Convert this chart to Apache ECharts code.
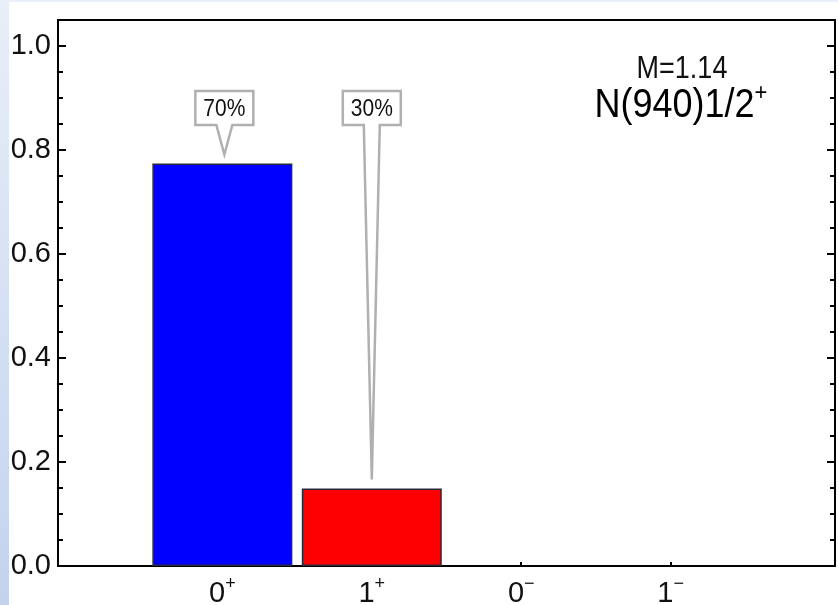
<!DOCTYPE html>
<html>
<head>
<meta charset="utf-8">
<script src="https://cdn.jsdelivr.net/npm/echarts@6/dist/echarts.min.js"></script>
<style>
  html, body { margin: 0; padding: 0; width: 838px; height: 605px; overflow: hidden; }
  body { background: linear-gradient(to bottom, #e9eef8, #c3d3ee); position: relative; }
  #chart { position: absolute; left: 9px; top: 2px; width: 829px; height: 603px; background: #fff; }
</style>
</head>
<body>
<div id="chart"></div>
<script>
// spin and parity of each channel on the x axis
const spins     = ['0', '1', '0', '1']
const parities  = ['+', '+', '\u2212', '\u2212']
const positions = [0, 1, 2, 3]

// bar heights and the percentage callouts above them
const probabilities = [0.774, 0.149]
const shares        = ['70%', '30%']
const barColors     = ['#0000ff', '#ff0000']

const yTicks = [0, 0.2, 0.4, 0.6, 0.8, 1.0]

const massLabel   = 'M=1.14'
const stateName   = 'N(940)1/2'
const stateParity = '+'

const FONT = '"Liberation Sans", Arial, Helvetica, sans-serif'

const chart = echarts.init(document.getElementById('chart'))

const yAxisBase = {
  type: 'value',
  min: 0,
  max: 1.05,
  interval: 0.2,
  splitLine: { show: false },
  axisLine: { show: true, onZero: false, lineStyle: { color: '#000', width: 2 } },
  axisTick: { show: true, inside: true, length: 8, lineStyle: { color: '#000', width: 2 } },
  minorTick: { show: true, splitNumber: 4, length: 5, lineStyle: { color: '#000', width: 2 } },
}

chart.setOption({
  animation: false,
  grid: {
    left: 49, top: 18, right: 3, bottom: 39,
    outerBoundsMode: 'none', containLabel: false,
    show: true, borderColor: '#000', borderWidth: 2,
  },
  xAxis: {
    type: 'value',
    min: -1.1,
    max: 4.1,
    splitLine: { show: false },
    axisLine: { show: true, onZero: false, lineStyle: { color: '#000', width: 2 } },
    axisTick: { show: true, inside: true, length: 4, customValues: positions, lineStyle: { color: '#000', width: 2 } },
    axisLabel: {
      customValues: positions,
      margin: 9,
      formatter: v => '{n|' + spins[v] + '}{p|' + parities[v] + '}',
      rich: {
        n: { fontFamily: FONT, fontSize: 29, color: '#111' },
        p: { fontFamily: FONT, fontSize: 18, color: '#111', verticalAlign: 'top', padding: [0, 0, 20, 0] },
      },
    },
  },
  yAxis: [
    {
      ...yAxisBase,
      position: 'left',
      axisLabel: {
        showMaxLabel: false,
        fontFamily: FONT, fontSize: 29, color: '#111', margin: 7,
        formatter: v => yTicks.includes(+v.toFixed(2)) ? v.toFixed(1) : '',
      },
    },
    { ...yAxisBase, position: 'right', axisLabel: { show: false } },
  ],
  series: [
    {
      type: 'bar',
      barWidth: 140,
      data: probabilities.map((p, i) => ({
        value: [positions[i], p],
        itemStyle: { color: barColors[i], borderColor: '#2a2a3a', borderWidth: 1.5 },
      })),
    },
    {
      type: 'custom',
      clip: false,
      z: 5,
      data: probabilities.map((p, i) => [positions[i], p]),
      renderItem(params, api) {
        const tip = api.coord([api.value(0), api.value(1)])
        const shift = params.dataIndex === 0 ? 2 : 0
        const cx = tip[0] + shift
        const ty = tip[1] - 9
        const w = 58, h = 34, half = 8
        const top = params.coordSys.y + 71
        const bottom = top + h
        return {
          type: 'group',
          children: [
            {
              type: 'polygon',
              shape: { points: [
                [cx - w / 2, top], [cx + w / 2, top], [cx + w / 2, bottom],
                [cx + half, bottom], [tip[0] + shift, ty], [cx - half, bottom],
                [cx - w / 2, bottom],
              ] },
              style: { fill: '#fff', stroke: '#b0b0b0', lineWidth: 2.5, lineJoin: 'miter' },
            },
            {
              type: 'text',
              x: cx, y: top + h / 2 + 1, scaleY: 1.15,
              style: { text: shares[params.dataIndex], font: '21px ' + FONT, fill: '#111', align: 'center', verticalAlign: 'middle' },
            },
          ],
        }
      },
    },
  ],
  graphic: [
    {
      type: 'text', x: 673, y: 67, scaleY: 1.15,
      style: { text: massLabel, font: '27px ' + FONT, fill: '#111', align: 'center', verticalAlign: 'middle' },
    },
    {
      type: 'text', x: 672, y: 104, scaleY: 1.12,
      style: {
        text: '{n|' + stateName + '}{p|' + stateParity + '}',
        align: 'center', verticalAlign: 'middle',
        rich: {
          n: { fontFamily: FONT, fontSize: 36, color: '#111' },
          p: { fontFamily: FONT, fontSize: 22, color: '#111', verticalAlign: 'top', padding: [0, 0, 22, 0] },
        },
      },
    },
  ],
})
</script>
</body>
</html>
